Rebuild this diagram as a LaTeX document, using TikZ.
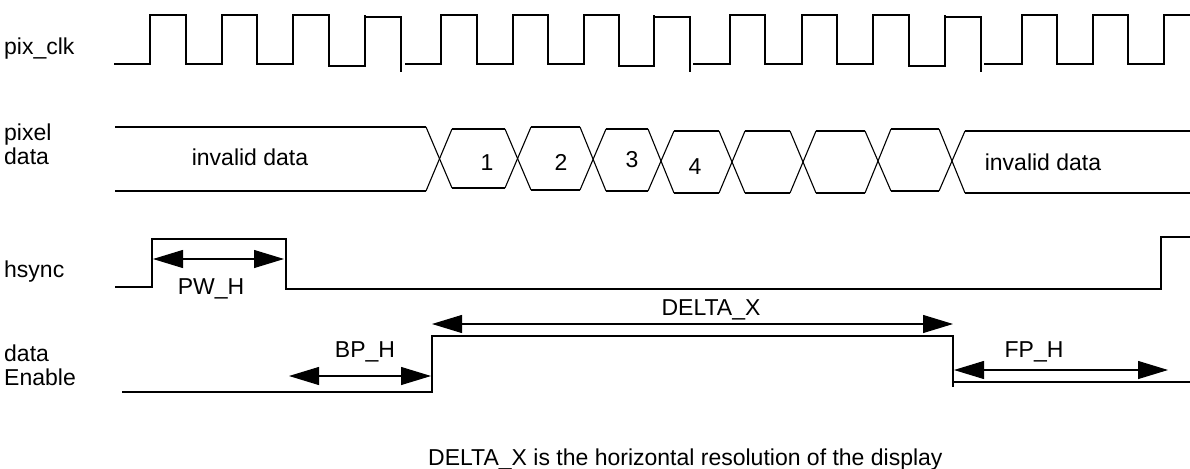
\documentclass[tikz,border=0pt]{standalone}
\usepackage{fontspec}
\setmainfont{Liberation Sans}
\usetikzlibrary{arrows.meta}
\begin{document}
\begin{tikzpicture}[x=1pt,y=-1pt,
  wave/.style={line width=1.1pt,line join=miter},
  dim/.style={line width=1.1pt,{Triangle[length=30pt,width=18pt]}-{Triangle[length=30pt,width=18pt]}},
  lbl/.style={inner sep=0pt,anchor=base,font=\fontsize{23}{27}\selectfont},
  sig/.style={inner sep=0pt,anchor=base west,font=\fontsize{23}{27}\selectfont}]
\useasboundingbox (0,0) rectangle (1190,468);
% signal names
\node[sig] (nclk) at (4,55) {pix\_clk};
\node[sig] (npix1) at (4,140) {pixel};
\node[sig] (npix2) at (4,164) {data};
\node[sig] (nhs) at (4,277) {hsync};
\node[sig] (nde1) at (4,361) {data};
\node[sig] (nde2) at (4,385) {Enable};
% pix_clk
\draw[wave] (114,64)--(150,64)--(150,15)--(186,15)--(186,64)--(222,64)--(222,15)--(257,15)--(257,64)--(293,64)--(293,15)--(329,15)--(329,66)--(365,66)--(365,15);
\draw[wave] (366,17)--(401,17)--(401,72);
\draw[wave] (405,64)--(441,64)--(441,15)--(477,15)--(477,64)--(513,64)--(513,15)--(548,15)--(548,64)--(584,64)--(584,15)--(619,15)--(619,66)--(654,66)--(654,15);
\draw[wave] (655,17)--(690,17)--(690,72);
\draw[wave] (693,64)--(730,64)--(730,15)--(765,15)--(765,64)--(802,64)--(802,15)--(837,15)--(837,64)--(873,64)--(873,15)--(909,15)--(909,66)--(945,66)--(945,15);
\draw[wave] (946,17)--(981,17)--(981,72);
\draw[wave] (984,64)--(1022,64)--(1022,15)--(1057,15)--(1057,64)--(1093,64)--(1093,15)--(1128,15)--(1128,64)--(1164,64)--(1164,15)--(1190,15);
% pixel data
\foreach \xa/\xb/\t/\b in {115/426/127/191, 452/505/129/188, 531/580/127/190, 606/648/129/191, 674/719/131/193, 745/790/131/193, 816/865/131/193, 891/939/129/191, 965/1190/131/193}
  {\draw[wave] (\xa,\t)--(\xb,\t); \draw[wave] (\xa,\b)--(\xb,\b);}
\foreach \xa/\xb/\ta/\ba/\tb/\bb in {426/452/127/191/129/188, 505/531/129/188/127/190, 580/606/127/190/129/191, 648/674/129/191/131/193, 719/745/131/193/131/193, 790/816/131/193/131/193, 865/891/131/193/129/191, 939/965/129/191/131/193}
  {\draw[wave] (\xa,\ta)--(\xb,\bb); \draw[wave] (\xa,\ba)--(\xb,\tb);}
\node[lbl] (inv1) at (250,165) {invalid data};
\node[lbl] (d1) at (487,170) {1};
\node[lbl] (d2) at (561,170) {2};
\node[lbl] (d3) at (632,167) {3};
\node[lbl] (d4) at (695,174) {4};
\node[lbl] (inv2) at (1043,170) {invalid data};
% hsync
\draw[wave] (115,287)--(152,287)--(152,239)--(286,239)--(286,289)--(1161,289)--(1161,237)--(1190,237);
\coordinate (pwa) at (153,259);
\coordinate (pwb) at (284,259);
\draw[dim] (pwa)--(pwb);
\node[lbl] (pw) at (211,294) {PW\_H};
% data enable
\draw[wave] (122,392)--(432,392)--(432,336)--(953,336)--(953,382)--(1190,382);
\draw[wave] (953,382)--(953,387);
\coordinate (dxa) at (432,324);
\coordinate (dxb) at (953,324);
\draw[dim] (dxa)--(dxb);
\node[lbl] (dx) at (711,315) {DELTA\_X};
\coordinate (bpa) at (289,376);
\coordinate (bpb) at (431,376);
\draw[dim] (bpa)--(bpb);
\node[lbl] (bp) at (365,357) {BP\_H};
\coordinate (fpa) at (954,370);
\coordinate (fpb) at (1168,370);
\draw[dim] (fpa)--(fpb);
\node[lbl] (fp) at (1034,357) {FP\_H};
% caption
\node[inner sep=0pt,anchor=base west,font=\fontsize{23}{27}\selectfont] (cap) at (428,465) {DELTA\_X is the horizontal resolution of the display};
\end{tikzpicture}
\end{document}
